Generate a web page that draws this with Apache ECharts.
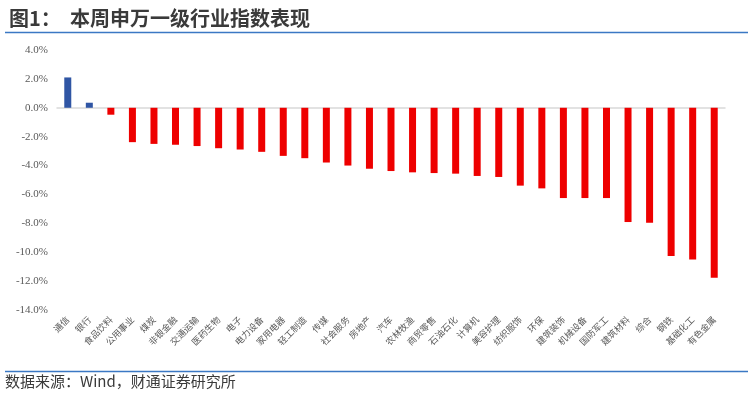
<!DOCTYPE html>
<html>
<head>
<meta charset="utf-8">
<script src="https://cdn.jsdelivr.net/npm/echarts@6/dist/echarts.min.js"></script>
<style>
html,body{margin:0;padding:0;background:#fff;}
#chart{width:748px;height:394px;}
</style>
</head>
<body>
<div id="chart"></div>
<script>
const categories = ['通信','银行','食品饮料','公用事业','煤炭','非银金融','交通运输','医药生物','电子','电力设备','家用电器','轻工制造','传媒','社会服务','房地产','汽车','农林牧渔','商贸零售','石油石化','计算机','美容护理','纺织服饰','环保','建筑装饰','机械设备','国防军工','建筑材料','综合','钢铁','基础化工','有色金属'];
const values = [2.10,0.35,-0.48,-2.38,-2.50,-2.56,-2.65,-2.80,-2.89,-3.05,-3.33,-3.49,-3.79,-4.00,-4.22,-4.38,-4.47,-4.52,-4.56,-4.72,-4.79,-5.39,-5.58,-6.25,-6.25,-6.25,-7.91,-7.96,-10.27,-10.50,-11.77];
const yTicks = {min:-14, max:4, interval:2};
const titleText = '图1：  本周申万一级行业指数表现';
const sourceText = '数据来源：Wind，财通证券研究所';

const chart = echarts.init(document.getElementById('chart'));
chart.setOption({
  animation:false,
  backgroundColor:'#fff',
  title:{
    text:titleText, left:4, top:3,
    textStyle:{fontFamily:'Noto Sans CJK SC', fontSize:20, fontWeight:'bold', color:'#3a3a3a'}
  },
  graphic:[
    {type:'line', shape:{x1:5,y1:32.5,x2:748,y2:32.5}, style:{stroke:'#3b78c4', lineWidth:1.5}},
    {type:'line', shape:{x1:5,y1:371.5,x2:748,y2:371.5}, style:{stroke:'#3b78c4', lineWidth:1.5}},
    {type:'text', left:5, top:374, style:{text:sourceText, font:'15px "Noto Sans CJK SC"', fill:'#3a3a3a'}}
  ],
  grid:{left:57, right:23, top:50, bottom:84},
  xAxis:[
    {type:'category', data:categories, axisLine:{onZero:true, lineStyle:{color:'#d9d9d9', width:1.5}},
     axisTick:{show:false}, axisLabel:{show:false}},
    {type:'category', data:categories, position:'bottom', axisLine:{show:false}, axisTick:{show:false},
     axisLabel:{rotate:45, interval:0, margin:8, fontSize:9, color:'#595959', fontFamily:'Noto Sans CJK SC'}}
  ],
  yAxis:{
    type:'value', min:yTicks.min, max:yTicks.max, interval:yTicks.interval,
    axisLine:{show:false}, axisTick:{show:false}, splitLine:{show:false},
    axisLabel:{margin:9, fontSize:11, color:'#595959', fontFamily:'Liberation Serif', formatter:v=>v.toFixed(1)+'%'}
  },
  series:[{
    type:'bar', xAxisIndex:0, data:values.map(v=>({value:v, itemStyle:{color: v>=0 ? '#2f55a4' : '#ee0000'}})),
    barWidth:7
  }]
});
</script>
</body>
</html>
